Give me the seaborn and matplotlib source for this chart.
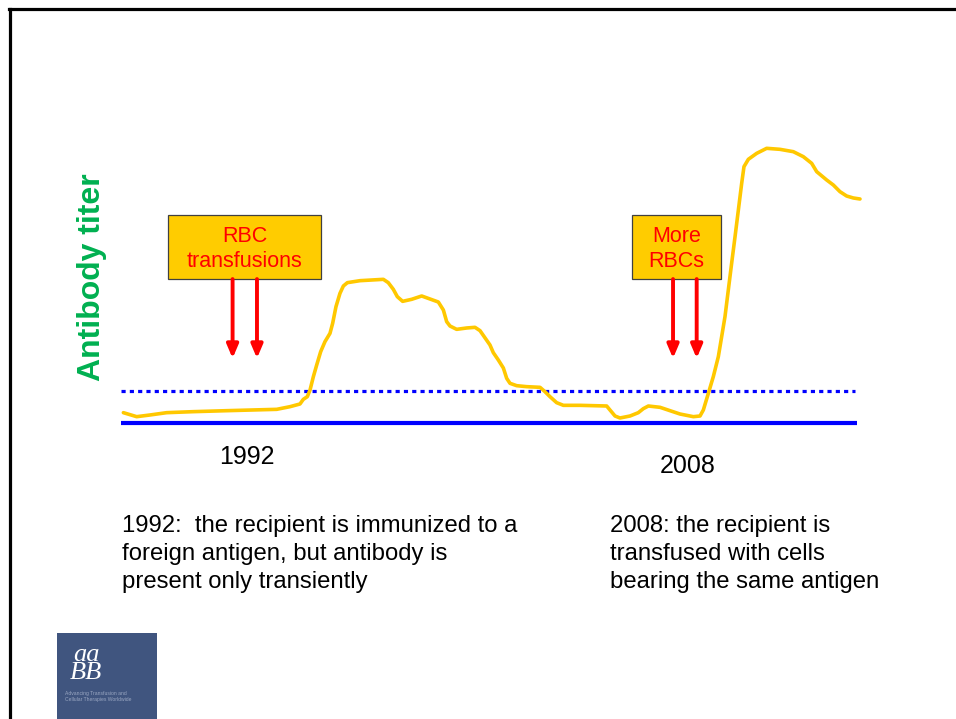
import matplotlib
matplotlib.use("Agg")
import matplotlib.pyplot as plt
from matplotlib.patches import Rectangle
from matplotlib.lines import Line2D
import seaborn as sns
import pandas as pd

# ---------------- data ----------------
time = [0.32, 2.12, 3.92, 6.18, 9.79, 14.30, 21.07, 22.87, 24.22, 24.67, 25.21,
        25.58, 26.03, 26.48, 27.02, 27.60, 28.28, 28.64, 29.09, 29.63, 30.09,
        30.63, 32.34, 35.50, 36.17, 36.85, 37.39, 38.11, 39.33, 40.69, 41.81,
        42.94, 43.62, 44.07, 44.52, 45.42, 46.77, 47.90, 48.58, 49.93, 50.38,
        51.06, 51.74, 52.19, 52.64, 53.54, 54.89,
        56.70, 57.37, 58.05, 58.95, 59.86, 62.11, 65.72, 66.17, 66.85, 67.52,
        68.88, 70.00, 70.68, 71.36, 72.94, 74.29, 75.64, 77.45, 78.35, 78.80,
        79.48, 80.15, 80.83, 81.28, 81.73, 82.18, 82.63, 83.09, 83.54, 83.99,
        84.30, 84.89, 86.02, 87.37, 89.17, 90.98, 92.33, 93.46, 94.14, 95.49,
        96.39, 97.29, 98.19, 99.10, 100.0]
titer = [3.69, 2.26, 2.86, 3.69, 4.05, 4.40, 4.88, 5.83, 6.79, 8.45, 9.40,
         11.79, 16.55, 20.71, 25.48, 29.05, 32.02, 35.60, 41.55, 46.31, 48.93,
         50.12, 50.83, 51.31, 50.12, 47.74, 45.12, 43.45, 44.17, 45.36, 44.29,
         43.21, 40.36, 36.19, 34.64, 33.45, 33.93, 34.17, 32.98, 27.86, 25.12,
         22.50, 19.64, 15.95, 14.17, 13.33, 12.98,
         12.74, 11.19, 9.40, 7.26, 6.31, 6.31, 6.07, 4.64, 2.50, 1.79,
         2.50, 3.69, 5.12, 6.07, 5.60, 4.40, 3.21, 2.26, 2.50, 4.64,
         10.60, 16.55, 23.69, 30.83, 37.98, 47.50, 57.02, 66.55, 76.07, 85.60,
         91.55, 94.17, 96.31, 98.10, 97.74, 96.90, 95.12, 92.74, 89.76, 86.79,
         85.00, 82.62, 81.07, 80.36, 80.00]
baseline_level = 0.0
threshold_level = 11.4
transfusions_1992 = [15.1, 18.4]
transfusions_2008 = [74.7, 77.9]
box_labels = ["RBC\ntransfusions", "More\nRBCs"]
year_labels = ["1992", "2008"]
ylabel = "Antibody titer"
note_1992 = ("1992:  the recipient is immunized to a\n"
             "foreign antigen, but antibody is\n"
             "present only transiently")
note_2008 = ("2008: the recipient is\n"
             "transfused with cells\n"
             "bearing the same antigen")

# ---------------- style ----------------
sns.set_style("white")
plt.rcParams['font.family'] = ['Liberation Sans', 'DejaVu Sans']

W, H = 956, 719
fig = plt.figure(figsize=(W / 100, H / 100), dpi=100)
fig.patch.set_facecolor("white")

def fx(px):
    return px / W

def fy(py):
    return 1 - py / H

ax = fig.add_axes([fx(121), fy(423), fx(860) - fx(121), fy(143) - fy(423)])
ax.set_xlim(0, 100)
ax.set_ylim(0, 100)
for s in ax.spines.values():
    s.set_visible(False)
ax.patch.set_alpha(0)

# baseline and threshold
ax.axhline(baseline_level, xmin=0, xmax=0.996, color="#0000FF", lw=3.0,
           clip_on=False, solid_capstyle="butt", zorder=2)
ax.axhline(threshold_level, xmin=0, xmax=0.993, color="#0000FF", lw=2.3,
           linestyle=(0, (1.3, 1.3)), dash_capstyle="butt", clip_on=False, zorder=2)

# antibody curve
df = pd.DataFrame({"time": time, "titer": titer})
sns.lineplot(data=df, x="time", y="titer", ax=ax, color="#FFC800", lw=2.6,
             estimator=None, sort=False, zorder=3)
for line in ax.lines:
    line.set_clip_on(False)
    line.set_solid_joinstyle("round")
ax.set_xlabel("")
ax.set_ylabel("")
ax.set_xticks([])
ax.set_yticks([])

# boxes + arrows
box_bottom, box_top = 51.4, 74.3
arrow_tip = 23.1
boxes = [(6.4, 27.1, transfusions_1992, box_labels[0]),
         (69.2, 81.2, transfusions_2008, box_labels[1])]
for x0, x1, arrows, label in boxes:
    ax.add_patch(Rectangle((x0, box_bottom), x1 - x0, box_top - box_bottom,
                           facecolor="#FFCC00", edgecolor="#404040", lw=0.9,
                           clip_on=False, zorder=4))
    ax.text((x0 + x1) / 2, (box_bottom + box_top) / 2 - 0.6, label, color="#FF0000",
            fontsize=15.5, ha="center", va="center", linespacing=1.27, zorder=5)
    for t in arrows:
        ax.annotate("", xy=(t, arrow_tip), xytext=(t, box_bottom),
                    arrowprops=dict(arrowstyle="-|>,head_length=0.4,head_width=0.17",
                                    color="#FF0000", lw=2.8, mutation_scale=20,
                                    shrinkA=0, shrinkB=0), zorder=4)

# year labels
ax.text(17.0, -12.3, year_labels[0], fontsize=18, ha="center", va="center",
        color="black", clip_on=False)
ax.text(76.7, -15.5, year_labels[1], fontsize=18, ha="center", va="center",
        color="black", clip_on=False)

# y label
ax.text(-0.039, 0.521, ylabel, transform=ax.transAxes, rotation=90,
        color="#00B050", fontsize=23, fontweight="bold", ha="center", va="center")

# notes
fig.text(fx(122), fy(515), note_1992, fontsize=17.2, ha="left", va="top",
         linespacing=1.35, color="black")
fig.text(fx(610), fy(515), note_2008, fontsize=17.2, ha="left", va="top",
         linespacing=1.35, color="black")

# frame lines
fig.add_artist(Line2D([fx(9), fx(956)], [fy(9), fy(9)], color="black", lw=2.3,
                      solid_capstyle="projecting"))
fig.add_artist(Line2D([fx(10), fx(10)], [fy(9), fy(719)], color="black", lw=2.3,
                      solid_capstyle="projecting"))

# logo
fig.add_artist(Rectangle((fx(57), fy(719)), fx(157) - fx(57), fy(633) - fy(719),
                         transform=fig.transFigure, facecolor="#40557F",
                         edgecolor="none"))
fig.text(fx(86), fy(664), "aa\nBB", color="white", fontsize=19,
         family="Liberation Serif", style="italic", ha="center", va="center",
         linespacing=0.72)
fig.text(fx(65), fy(693), "Advancing Transfusion and", color="#9aa7c2", fontsize=3.6,
         ha="left", va="center")
fig.text(fx(65), fy(700), "Cellular Therapies Worldwide", color="#9aa7c2", fontsize=3.6,
         ha="left", va="center")

fig.savefig("out.png", dpi=100)
